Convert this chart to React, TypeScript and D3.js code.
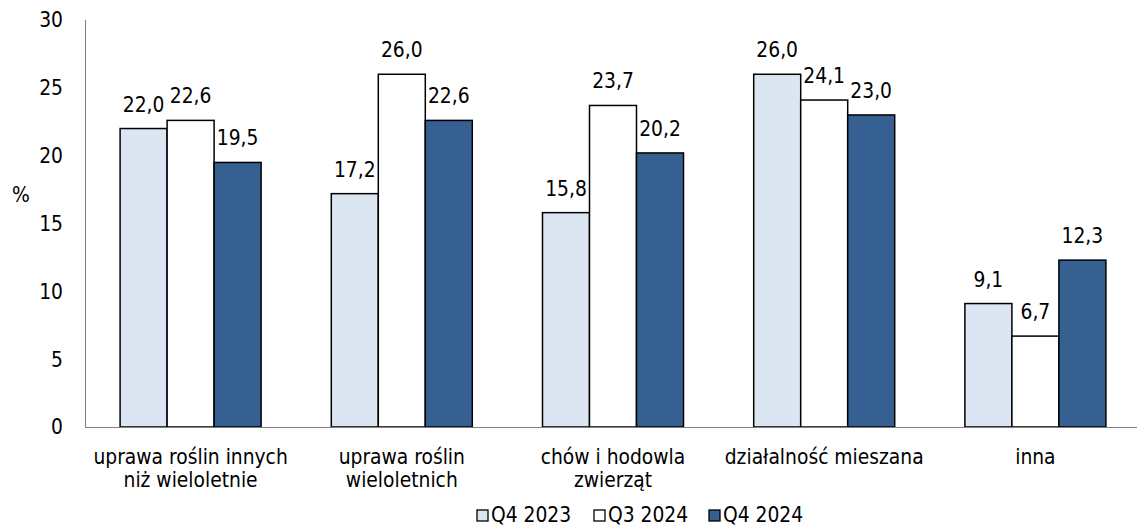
import React from "react";
import * as d3 from "d3";

const categories = [
  ["uprawa roślin innych", "niż wieloletnie"],
  ["uprawa roślin", "wieloletnich"],
  ["chów i hodowla", "zwierząt"],
  ["działalność mieszana"],
  ["inna"],
];
const seriesNames = ["Q4 2023", "Q3 2024", "Q4 2024"];
const q4_2023 = [22.0, 17.2, 15.8, 26.0, 9.1];
const q3_2024 = [22.6, 26.0, 23.7, 24.1, 6.7];
const q4_2024 = [19.5, 22.6, 20.2, 23.0, 12.3];
const yTicks = [0, 5, 10, 15, 20, 25, 30];
const colors = ["#DCE6F2", "#FFFFFF", "#376092"];

const W = 1137;
const H = 528;
const FONT = "DejaVu Sans Condensed, DejaVu Sans, sans-serif";
const FS = 20.8;

export default function App() {
  const series = [q4_2023, q3_2024, q4_2024];
  const x = d3
    .scaleBand<number>()
    .domain(d3.range(categories.length))
    .range([85, 1141])
    .paddingInner(0)
    .paddingOuter(0);
  const bandW = x.bandwidth();
  const groupW = 141;
  const inner = d3
    .scaleBand<number>()
    .domain(d3.range(series.length))
    .range([(bandW - groupW) / 2, (bandW + groupW) / 2]);
  const y = d3.scaleLinear().domain([0, 30]).range([427, 20]);
  const fmt = (v: number) => v.toFixed(1).replace(".", ",");

  const legendItems = [
    { sq: 477, tx: 491 },
    { sq: 594, tx: 608 },
    { sq: 709, tx: 723 },
  ];

  return (
    <svg
      width={W}
      height={H}
      style={{ position: "absolute", left: 0, top: 0, background: "#fff" }}
      fontFamily={FONT}
    >
      <rect x={0} y={0} width={W} height={H} fill="#fff" />
      {yTicks.map((t) => (
        <text
          key={t}
          x={63}
          y={y(t)}
          dy="0.36em"
          textAnchor="end"
          fontSize={FS}
          fill="#000"
        >
          {t}
        </text>
      ))}
      <text x={21} y={195} dy="0.36em" textAnchor="middle" fontSize={FS}>
        %
      </text>
      {categories.map((_, ci) =>
        series.map((s, si) => {
          const bx = (x(ci) as number) + (inner(si) as number);
          const v = s[ci];
          return (
            <g key={`${ci}-${si}`}>
              <rect
                x={bx}
                y={y(v)}
                width={inner.bandwidth()}
                height={y(0) - y(v)}
                fill={colors[si]}
                stroke="#000"
                strokeWidth={1.5}
              />
              <text
                x={bx + inner.bandwidth() / 2}
                y={y(v) - 17}
                textAnchor="middle"
                fontSize={FS}
                fill="#000"
              >
                {fmt(v)}
              </text>
            </g>
          );
        })
      )}
      <line x1={85.5} x2={85.5} y1={20} y2={427} stroke="#808080" strokeWidth={1} />
      <line x1={85} x2={1141} y1={427.5} y2={427.5} stroke="#808080" strokeWidth={1} />
      {categories.map((lines, ci) => (
        <text
          key={ci}
          x={(x(ci) as number) + bandW / 2}
          y={464}
          textAnchor="middle"
          fontSize={FS}
          fill="#000"
        >
          {lines.map((l, li) => (
            <tspan key={li} x={(x(ci) as number) + bandW / 2} dy={li === 0 ? 0 : 23}>
              {l}
            </tspan>
          ))}
        </text>
      ))}
      {seriesNames.map((n, i) => (
        <g key={n}>
          <rect
            x={legendItems[i].sq}
            y={510}
            width={11}
            height={11}
            fill={colors[i]}
            stroke="#000"
            strokeWidth={1.3}
          />
          <text x={legendItems[i].tx} y={522} fontSize={FS} fill="#000">
            {n}
          </text>
        </g>
      ))}
    </svg>
  );
}
